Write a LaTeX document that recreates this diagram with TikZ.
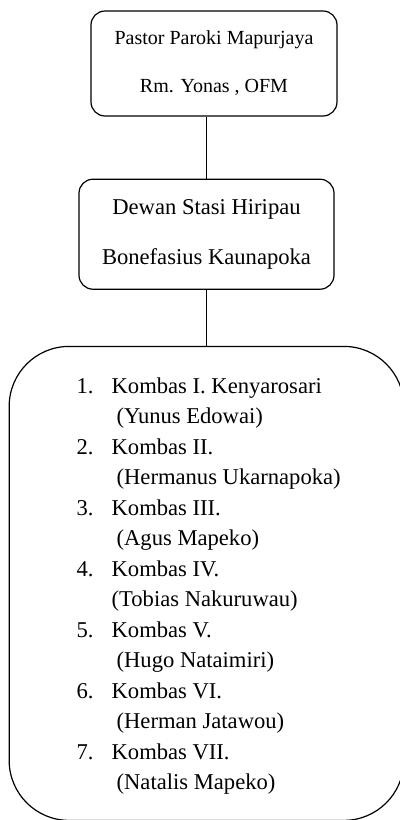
\documentclass[tikz,border=0pt]{standalone}
\usepackage{fontspec}
\setmainfont{Liberation Serif}
\usetikzlibrary{positioning}
\tikzset{kotak/.style={draw,rounded corners=7pt,line width=0.6pt,align=center,inner sep=0pt},
            garis/.style={line width=0.6pt},
            }
\newcommand{\nomor}[1]{\makebox[17.5pt][l]{#1}}

\begin{document}
\begin{tikzpicture}
    \clip (0,0) rectangle (200pt,-410pt);
    \node[kotak,minimum width=123pt,minimum height=52.5pt,font=\fontsize{10}{24}\selectfont] (pastor) at (107pt,-31.75pt) {Pastor Paroki Mapurjaya\\Rm. Yonas , OFM};
    \node[kotak,minimum width=127.5pt,minimum height=55pt,font=\fontsize{11.3}{25}\selectfont] (dewan) [below=31pt of pastor,xshift=-3.75pt] {Dewan Stasi Hiripau\\Bonefasius Kaunapoka};
    \node[kotak,rounded corners=30pt,minimum width=197.35pt,minimum height=237pt] (kombas) [below=28pt of dewan] {};
    \node[align=left,inner sep=0pt,font=\fontsize{11.3}{15.25}\selectfont] (daftar) [below right=15.7pt and 33.85pt of kombas.north west]
    {\nomor{1.}Kombas I. Kenyarosari\\
     \hspace*{20pt}(Yunus Edowai)\\
     \nomor{2.}Kombas II.\\
     \hspace*{20pt}(Hermanus Ukarnapoka)\\
     \nomor{3.}Kombas III.\\
     \hspace*{20pt}(Agus Mapeko)\\
     \nomor{4.}Kombas IV.\\
     \hspace*{17.5pt}(Tobias Nakuruwau)\\
     \nomor{5.}Kombas V.\\
     \hspace*{20pt}(Hugo Nataimiri)\\
     \nomor{6.}Kombas VI.\\
     \hspace*{20pt}(Herman Jatawou)\\
     \nomor{7.}Kombas VII.\\
     \hspace*{20pt}(Natalis Mapeko)};

    \draw[garis] (dewan.north) -- (dewan.north |- pastor.south);
    \draw[garis] (dewan.south) -- (kombas.north);
    %%

\end{tikzpicture}
\end{document}
